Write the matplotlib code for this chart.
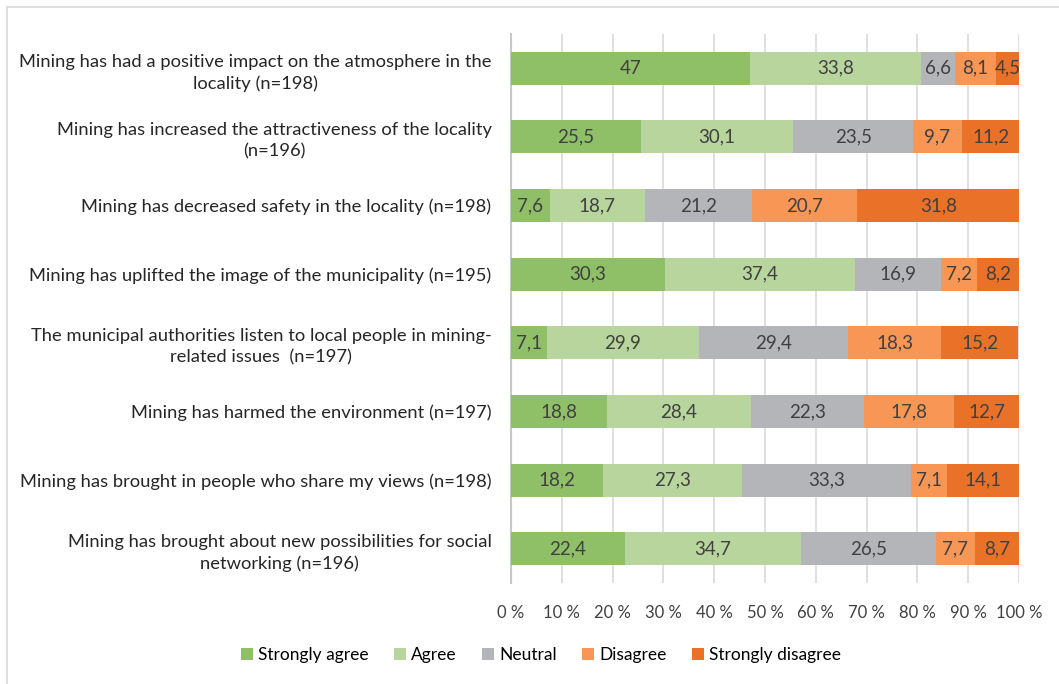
import numpy as np
import matplotlib
matplotlib.use("Agg")
import matplotlib.pyplot as plt
from matplotlib.lines import Line2D

plt.rcParams['font.family'] = ['Lato', 'DejaVu Sans']

# statements (top to bottom)
statements = [
    "Mining has had a positive impact on the atmosphere in the\nlocality (n=198)",
    "Mining has increased the attractiveness of the locality\n(n=196)",
    "Mining has decreased safety in the locality (n=198)",
    "Mining has uplifted the image of the municipality (n=195)",
    "The municipal authorities listen to local people in mining-\nrelated issues  (n=197)",
    "Mining has harmed the environment (n=197)",
    "Mining has brought in people who share my views (n=198)",
    "Mining has brought about new possibilities for social\nnetworking (n=196)",
]
strongly_agree = [47, 25.5, 7.6, 30.3, 7.1, 18.8, 18.2, 22.4]
agree = [33.8, 30.1, 18.7, 37.4, 29.9, 28.4, 27.3, 34.7]
neutral = [6.6, 23.5, 21.2, 16.9, 29.4, 22.3, 33.3, 26.5]
disagree = [8.1, 9.7, 20.7, 7.2, 18.3, 17.8, 7.1, 7.7]
strongly_disagree = [4.5, 11.2, 31.8, 8.2, 15.2, 12.7, 14.1, 8.7]

series_names = ["Strongly agree", "Agree", "Neutral", "Disagree", "Strongly disagree"]
colors = ["#8fbf67", "#b7d59d", "#b4b5b9", "#f79655", "#e97228"]
x_ticks = np.arange(0, 101, 10)

fig = plt.figure(figsize=(10.59, 6.84), dpi=100)
ax = fig.add_axes([511 / 1059, 1 - 583 / 684, 508 / 1059, 549 / 684])

series = [strongly_agree, agree, neutral, disagree, strongly_disagree]
y = np.arange(len(statements))
left = np.zeros(len(statements))
for vals, name, col in zip(series, series_names, colors):
    vals = np.array(vals)
    bars = ax.barh(y, vals, left=left, height=0.48, color=col, label=name, zorder=3)
    for b, v in zip(bars, vals):
        txt = f"{v:g}".replace(".", ",")
        ax.text(b.get_x() + b.get_width() / 2, b.get_y() + b.get_height() / 2, txt,
                ha="center", va="center", fontsize=13.5, color="#404040", zorder=4)
    left = left + vals

ax.set_ylim(len(statements) - 0.5, -0.5)
ax.set_xlim(0, 100)
ax.set_yticks(y)
ax.set_yticklabels(statements, fontsize=13.2, color="#262626", multialignment="center",
                   linespacing=1.4)
ax.set_xticks(x_ticks)
ax.set_xticklabels([f"{t} %" for t in x_ticks], fontsize=12, color="#404040")
ax.tick_params(axis="y", length=0, pad=14)
ax.tick_params(axis="x", length=0, pad=16)
ax.grid(axis="x", color="#d9d9d9", linewidth=1.2, zorder=0)
for s in ["top", "right", "bottom"]:
    ax.spines[s].set_visible(False)
ax.spines["left"].set_color("#c8c8c8")
ax.spines["left"].set_linewidth(1.5)

ax.legend(loc="center", bbox_to_anchor=(541 / 1059, 1 - 655 / 684), bbox_transform=fig.transFigure,
          ncol=5, frameon=False, fontsize=12.5, handlelength=0.7, handleheight=0.7,
          handletextpad=0.3, columnspacing=1.45)

# outer frame (left and top only visible)
fig.add_artist(Line2D([7 / 1059, 7 / 1059], [0, 1 - 7 / 684], transform=fig.transFigure,
                      color="#d9d9d9", linewidth=1.2))
fig.add_artist(Line2D([7 / 1059, 1], [1 - 7 / 684, 1 - 7 / 684], transform=fig.transFigure,
                      color="#d9d9d9", linewidth=1.2))

fig.savefig("out.png", dpi=100)
